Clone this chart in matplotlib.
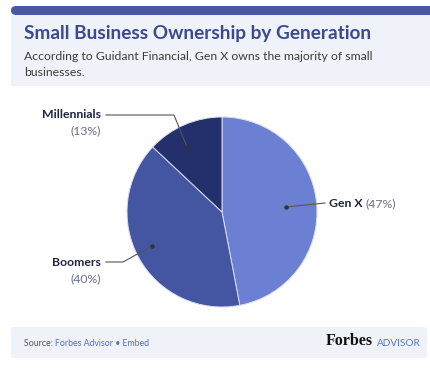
import matplotlib
matplotlib.use("Agg")
import matplotlib.pyplot as plt
from matplotlib.patches import FancyBboxPatch, Rectangle

# data
labels = ["Gen X", "Boomers", "Millennials"]
shares = [47, 40, 13]
colors = ["#6c80d3", "#4456a1", "#23306b"]

W, H = 430, 372
fig = plt.figure(figsize=(W / 100, H / 100), dpi=100)
fig.patch.set_facecolor("white")


def px(x, y):
    return x / W, 1 - y / H


# card header / footer backgrounds
bar = FancyBboxPatch(px(11, 15), 430 / W, 9 / H, boxstyle="round,pad=0,rounding_size=0.012",
                     transform=fig.transFigure, facecolor="#4757a3", edgecolor="none")
fig.patches.append(bar)
fig.patches.append(Rectangle(px(11, 86), 430 / W, 71 / H, transform=fig.transFigure,
                             facecolor="#eff3f9", edgecolor="none"))
fig.patches.append(FancyBboxPatch(px(11, 358), 416 / W, 31 / H, boxstyle="round,pad=0,rounding_size=0.008",
                                  transform=fig.transFigure, facecolor="#eff3f9", edgecolor="none"))

fig.text(*px(24, 34), "Small Business Ownership by Generation", fontsize=13.7, fontweight="bold",
         color="#3b4a8f", family="Lato", va="center", ha="left")
fig.text(*px(24, 56), "According to Guidant Financial, Gen X owns the majority of small",
         fontsize=8.8, color="#3c3c3c", family="Lato", va="center", ha="left")
fig.text(*px(24, 72), "businesses.", fontsize=8.8, color="#3c3c3c", family="Lato", va="center", ha="left")

# pie
cx, cy, r = 222, 212, 95
ax = fig.add_axes([(cx - r) / W, 1 - (cy + r) / H, 2 * r / W, 2 * r / H])
ax.pie(shares, colors=colors, startangle=90, counterclock=False,
       wedgeprops=dict(edgecolor="#d8ddf0", linewidth=0.7))
ax.set_xlim(-1, 1)
ax.set_ylim(-1, 1)
ax.set_aspect("equal")
ax.axis("off")

lc = "#555555"
# leader lines (pixel layout)
leaders = [
    [(325, 203), (286, 207)],
    [(106, 262), (123, 262), (152, 246)],
    [(106, 115), (174, 115), (187, 147)],
]
for pts in leaders:
    xs = [px(*p)[0] for p in pts]
    ys = [px(*p)[1] for p in pts]
    fig.add_artist(plt.Line2D(xs, ys, transform=fig.transFigure, color=lc, linewidth=0.8))
    fig.add_artist(plt.Line2D([xs[-1]], [ys[-1]], transform=fig.transFigure, marker="o",
                              markersize=2.2, color="#333333", linestyle="none"))

fs = 8.8
t = fig.text(*px(329, 204), labels[0], fontsize=fs, fontweight="bold", color="#1f2440",
             family="Lato", va="center", ha="left")
fig.canvas.draw()
bb = t.get_window_extent()
fig.text((bb.x1 + 3) / W, 1 - 204 / H, f"({shares[0]}%)", fontsize=fs, color="#6b6f80",
         family="Lato", va="center", ha="left")

fig.text(*px(101, 263), labels[1], fontsize=fs, fontweight="bold", color="#1f2440",
         family="Lato", va="center", ha="right")
fig.text(*px(101, 279), f"({shares[1]}%)", fontsize=fs, color="#6b6f80",
         family="Lato", va="center", ha="right")
fig.text(*px(101, 115), labels[2], fontsize=fs, fontweight="bold", color="#1f2440",
         family="Lato", va="center", ha="right")
fig.text(*px(101, 131), f"({shares[2]}%)", fontsize=fs, color="#6b6f80",
         family="Lato", va="center", ha="right")

# footer
s = fig.text(*px(24, 343), "Source: ", fontsize=6.3, color="#555555", family="Lato", va="center", ha="left")
fig.canvas.draw()
bb = s.get_window_extent()
fig.text(bb.x1 / W, 1 - 343 / H, "Forbes Advisor \u2022 Embed", fontsize=6.3, color="#5a6fb8",
         family="Lato", va="center", ha="left")
fig.text(*px(373, 341), "Forbes", fontsize=11.5, fontweight="bold", color="#111111",
         family="Liberation Serif", va="center", ha="right")
fig.text(*px(377, 343), "ADVISOR", fontsize=7.2, color="#5b74d0", family="Lato", va="center", ha="left")

fig.savefig("out.png", dpi=100)
